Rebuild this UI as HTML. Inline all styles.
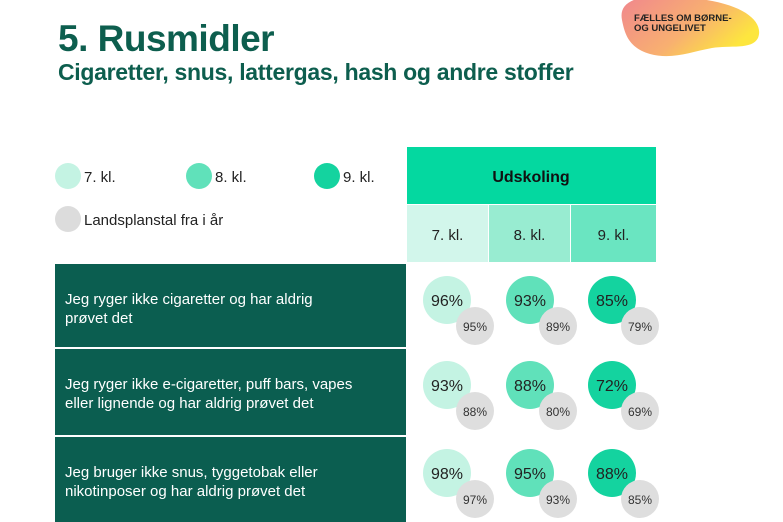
<!DOCTYPE html>
<html><head><meta charset="utf-8">
<style>
body{margin:0;width:783px;height:522px;background:#fff;overflow:hidden;font-family:"Liberation Sans",sans-serif}
svg{display:block}
</style></head>
<body>
<svg id="c" width="783" height="522" xmlns="http://www.w3.org/2000/svg">
<defs><linearGradient id="lg" x1="0" y1="0" x2="1" y2="0.5"><stop offset="0" stop-color="#f0868e"/><stop offset="0.6" stop-color="#f8b070"/><stop offset="1" stop-color="#fde63e"/></linearGradient></defs>
<path d="M622,20 C618,0 640,-8 690,-2 C740,2 765,20 758,38 C752,50 730,45 712,48 C690,52 672,60 650,54 C630,48 625,36 622,20Z" fill="url(#lg)"/>
<text x="634" y="21" font-size="9.5" font-weight="bold" fill="#222">FÆLLES OM BØRNE-</text>
<text x="634" y="31" font-size="9.5" font-weight="bold" fill="#222">OG UNGELIVET</text>
<text x="58" y="51" font-size="37" font-weight="bold" fill="#0d5e4e" letter-spacing="-0.5">5. Rusmidler</text>
<text x="58" y="80" font-size="23" font-weight="bold" fill="#0d5e4e" letter-spacing="-0.3">Cigaretter, snus, lattergas, hash og andre stoffer</text>
<g id="legend"></g>
<rect x="407" y="147" width="249" height="57" fill="#04d8a0"/>
<text x="531" y="182" font-size="16" font-weight="bold" fill="#111" text-anchor="middle">Udskoling</text>
<g id="grid"></g>
</svg>
<script>
const grades=["7. kl.","8. kl.","9. kl."];
const questions=[["Jeg ryger ikke cigaretter og har aldrig","prøvet det"],["Jeg ryger ikke e-cigaretter, puff bars, vapes","eller lignende og har aldrig prøvet det"],["Jeg bruger ikke snus, tyggetobak eller","nikotinposer og har aldrig prøvet det"]];
const localValues=[[96,93,85],[93,88,72],[98,95,88]];
const nationalValues=[[95,89,79],[88,80,69],[97,93,85]];
const NS="http://www.w3.org/2000/svg";
const gradeColors=["#c4f3e3","#60e1ba","#14d39f"];
const headColors=["#d2f6eb","#98ecd1","#6ae5c1"];
function mk(t,a,p,name){const e=document.createElementNS(NS,t);for(const k in a)e.setAttribute(k,a[k]);


p.appendChild(e);return e;}
const L=document.getElementById('legend'),G=document.getElementById('grid');
const lx=[68,199,327];
grades.forEach((g,i)=>{mk('circle',{cx:lx[i],cy:176,r:13,fill:gradeColors[i]},L,'legend-swatch-'+(i+7));
const t=mk('text',{x:lx[i]+16,y:182,'font-size':15,fill:'#222'},L,'legend-label-'+(i+7));t.textContent=g;});
mk('circle',{cx:68,cy:219,r:13,fill:'#dcdcdc'},L,'legend-swatch-national');
const tl=mk('text',{x:84,y:225,'font-size':15,fill:'#222'},L,'legend-label-national');tl.textContent="Landsplanstal fra i år";
const colX=[407,489,571],colW=[81,81,85],colC=[447,530,612];
grades.forEach((g,i)=>{mk('rect',{x:colX[i],y:205,width:colW[i],height:57,fill:headColors[i]},G,'grade-header-'+(i+7));
const t=mk('text',{x:colX[i]+colW[i]/2,y:240,'font-size':15,fill:'#222','text-anchor':'middle'},G,'grade-header-label-'+(i+7));t.textContent=g;});
const rowY=[264,349,437],rowH=[83,86,85];
questions.forEach((q,r)=>{mk('rect',{x:55,y:rowY[r],width:351,height:rowH[r],fill:'#0b5e50'},G,'question-row-'+(r+1));
q.forEach((line,k)=>{const t=mk('text',{x:65,y:rowY[r]+40+k*19,'font-size':15,fill:'#fff'},G,'question-text-'+(r+1));t.textContent=line;});
const cy=rowY[r]+36;
grades.forEach((g,i)=>{const cx=colC[i];
mk('circle',{cx:cx,cy:cy,r:24,fill:gradeColors[i]},G,'bubble-local-'+(r+1)+'-'+(i+7));
const t=mk('text',{x:cx,y:cy+6,'font-size':16,fill:'#222','text-anchor':'middle'},G,'bubble-local-value');t.textContent=localValues[r][i]+'%';
mk('circle',{cx:cx+28,cy:cy+26,r:19,fill:'#dedede'},G,'bubble-national-'+(r+1)+'-'+(i+7));
const t2=mk('text',{x:cx+28,y:cy+31,'font-size':12,fill:'#333','text-anchor':'middle'},G,'bubble-national-value');t2.textContent=nationalValues[r][i]+'%';});});
</script>
</body></html>
